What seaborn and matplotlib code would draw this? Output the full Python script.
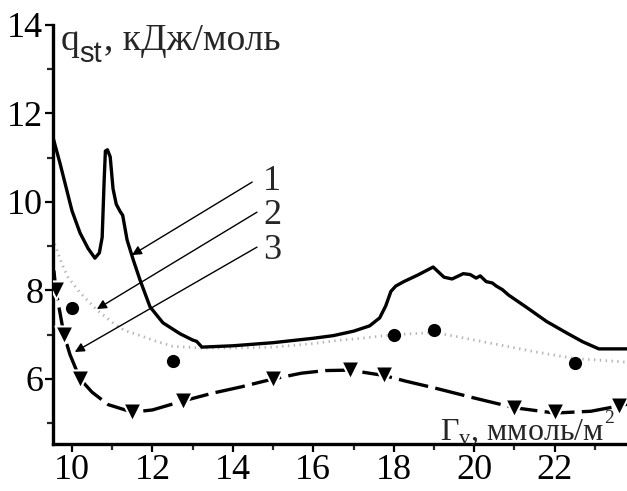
import matplotlib
matplotlib.use("Agg")
import matplotlib.pyplot as plt
import seaborn as sns
import pandas as pd

# Curve 1: isosteric heat, solid line
x1 = [9.53, 9.7, 10.0, 10.2, 10.4, 10.57, 10.68, 10.75, 10.8, 10.83, 10.88, 10.95,
      11.02, 11.1, 11.2, 11.26, 11.37, 11.52, 11.69, 11.94, 12.26, 12.69, 13.0, 13.1,
      13.23, 14.0, 15.0, 16.0, 16.5, 17.0, 17.4, 17.65, 17.8, 17.93, 18.05, 18.25,
      18.6, 18.98, 19.25, 19.45, 19.73, 19.9, 20.05, 20.15, 20.3, 20.45, 20.55, 20.7,
      20.85, 21.3, 21.8, 22.3, 22.7, 23.1, 23.8]
y1 = [11.45, 10.88, 9.8, 9.3, 8.95, 8.73, 8.85, 9.2, 10.5, 11.15, 11.18, 11.02,
      10.3, 9.95, 9.78, 9.7, 9.14, 8.7, 8.24, 7.63, 7.27, 7.02, 6.88, 6.85,
      6.72, 6.75, 6.82, 6.92, 6.98, 7.08, 7.2, 7.38, 7.65, 7.98, 8.1, 8.2,
      8.35, 8.53, 8.3, 8.26, 8.38, 8.36, 8.28, 8.33, 8.2, 8.17, 8.1, 8.02,
      7.9, 7.62, 7.3, 7.04, 6.84, 6.68, 6.68]

# Curve 2: dotted line and measured points
x2 = [9.57, 9.75, 9.9, 10.2, 10.62, 11.0, 11.3, 11.7, 12.1, 12.5, 13.2, 14.0, 15.0,
      16.0, 16.6, 17.3, 18.0, 19.0, 19.5, 20.0, 20.8, 21.6, 22.5, 23.2, 23.8]
y2 = [9.05, 8.6, 8.3, 7.95, 7.56, 7.28, 7.1, 6.98, 6.85, 6.74, 6.7, 6.7, 6.72,
      6.8, 6.87, 6.93, 7.0, 7.05, 6.97, 6.88, 6.74, 6.6, 6.46, 6.42, 6.38]
pts2_x = [10.0, 12.5, 18.0, 19.0, 22.5]
pts2_y = [7.6, 6.4, 7.0, 7.1, 6.35]

# Curve 3: dashed line and measured points
x3 = [9.55, 9.6, 9.7, 9.8, 9.95, 10.2, 10.5, 10.9, 11.5, 12.0, 12.75, 13.5, 14.2,
      15.0, 15.7, 16.3, 16.9, 17.75, 18.3, 19.0, 20.0, 21.0, 22.0, 22.9, 23.6, 23.8]
y3 = [8.45, 8.0, 7.5, 7.0, 6.55, 6.0, 5.7, 5.42, 5.25, 5.3, 5.5, 5.68, 5.82,
      6.0, 6.13, 6.19, 6.2, 6.08, 5.95, 5.8, 5.57, 5.35, 5.23, 5.27, 5.39, 5.43]
pts3_x = [9.6, 9.8, 10.2, 11.5, 12.75, 15.0, 16.9, 17.75, 21.0, 22.0, 23.6]
pts3_y = [8.0, 7.0, 6.0, 5.25, 5.5, 6.0, 6.2, 6.1, 5.35, 5.25, 5.4]

x_ticks = [10, 12, 14, 16, 18, 20, 22]
y_ticks = [6, 8, 10, 12, 14]

sns.set_style("ticks")
plt.rcParams["font.family"] = ["Liberation Serif", "DejaVu Serif"]
plt.rcParams["mathtext.fontset"] = "custom"
plt.rcParams["mathtext.rm"] = "Liberation Serif"
plt.rcParams["mathtext.it"] = "Liberation Serif:italic"

W, H = 627, 491
fig = plt.figure(figsize=(W / 100, H / 100), dpi=100)
ax = fig.add_axes([0.0845, 0.0957, 0.9155, 0.8534])


def px(x, y):
    """Figure fraction from pixel position measured from the top-left corner."""
    return x / W, 1 - y / H


sns.lineplot(data=pd.DataFrame({"x": x2, "y": y2}), x="x", y="y", ax=ax,
             color="#b4b4b4", lw=2.0, linestyle=(0, (0.5, 1.6)), sort=False)
sns.lineplot(data=pd.DataFrame({"x": x1, "y": y1}), x="x", y="y", ax=ax,
             color="black", lw=2.4, sort=False)
sns.lineplot(data=pd.DataFrame({"x": x3, "y": y3}), x="x", y="y", ax=ax,
             color="black", lw=2.4, linestyle=(0, (9, 2.2)), sort=False)
sns.scatterplot(x=pts2_x, y=pts2_y, ax=ax, color="black", s=90, marker="o",
                edgecolor="black", linewidth=0, zorder=5)
sns.scatterplot(x=pts3_x, y=pts3_y, ax=ax, color="black", s=170, marker="v",
                edgecolor="white", linewidth=1.5, zorder=5)

ax.set_xlim(9.527, 23.8)
ax.set_ylim(4.53, 14.0)
ax.set_xticks(x_ticks)
ax.set_yticks(y_ticks)
ax.set_xticks([11, 13, 15, 17, 19, 21, 23], minor=True)
ax.set_yticks([5, 7, 9, 11, 13], minor=True)
ax.tick_params(axis="both", which="major", direction="out", length=6, width=1.6,
               labelsize=26, pad=1, colors="black")
ax.tick_params(axis="both", which="minor", direction="out", length=4, width=1.6)
ax.set_xlabel("")
ax.set_ylabel("")
for s in ("top", "right"):
    ax.spines[s].set_visible(False)
for s in ("left", "bottom"):
    ax.spines[s].set_linewidth(2.4)
    ax.spines[s].set_color("black")

# y-axis title: q with a large subscript "st"
fig.text(*px(61, 50), "q", fontsize=27, ha="left", va="baseline")
fig.text(*px(79, 62), "st", fontsize=21, family="Liberation Sans",
         ha="left", va="baseline")
fig.text(*px(104, 50), ", кДж/моль", fontsize=27, ha="left", va="baseline")

# x-axis title
fig.text(*px(440, 440), r"Γ$_{\mathregular{v}}$, ммоль/м", fontsize=23,
         ha="left", va="baseline")
fig.text(*px(604, 423), "2", fontsize=14, ha="left", va="baseline")

arrow = dict(arrowstyle="-|>", color="black", lw=1.0, mutation_scale=14,
             shrinkA=0, shrinkB=0)
ax.annotate("", xy=(11.49, 8.8), xytext=(14.48, 10.45), arrowprops=arrow)
ax.annotate("", xy=(10.62, 7.58), xytext=(14.6, 9.77), arrowprops=arrow)
ax.annotate("", xy=(10.07, 6.61), xytext=(14.6, 8.98), arrowprops=arrow)
for lab, yy in (("1", 10.28), ("2", 9.5), ("3", 8.72)):
    ax.text(14.75, yy, lab, fontsize=26, ha="left", va="baseline")

fig.savefig("out.png", dpi=100)
